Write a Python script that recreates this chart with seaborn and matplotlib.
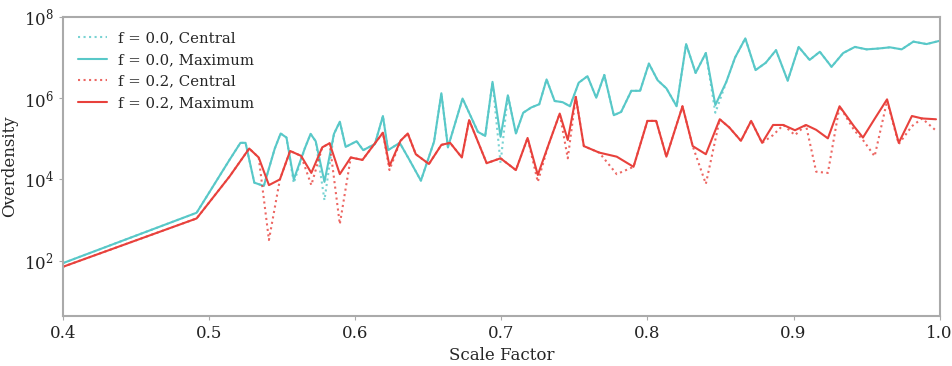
import numpy as np
import pandas as pd
import matplotlib
matplotlib.use('Agg')
import matplotlib.pyplot as plt
import seaborn as sns

# scale factor of each output, f = 0.0 run
a_f00 = [0.400, 0.4915, 0.514, 0.5215, 0.525, 0.531, 0.5375, 0.545, 0.549, 0.553,
         0.558, 0.5655, 0.5695, 0.573, 0.579, 0.5855, 0.5895, 0.5935, 0.601, 0.6055,
         0.6135, 0.619, 0.6225, 0.6305, 0.637, 0.645, 0.654, 0.659, 0.6635, 0.6735,
         0.684, 0.689, 0.694, 0.6995, 0.7045, 0.710, 0.715, 0.7205, 0.726, 0.731,
         0.7365, 0.742, 0.747, 0.753, 0.759, 0.765, 0.7705, 0.777, 0.782, 0.789,
         0.795, 0.801, 0.807, 0.813, 0.820, 0.8265, 0.833, 0.840, 0.8465, 0.854,
         0.860, 0.867, 0.874, 0.881, 0.888, 0.896, 0.9035, 0.911, 0.918, 0.926,
         0.934, 0.942, 0.950, 0.958, 0.966, 0.974, 0.982, 0.991, 1.000]

# log10 overdensity
max_f00 = [1.94, 3.18, 4.48, 4.90, 4.90, 3.92, 3.84, 4.76, 5.13, 5.03,
           4.00, 4.76, 5.12, 4.94, 3.94, 5.12, 5.42, 4.80, 4.94, 4.72,
           4.87, 5.56, 4.72, 4.90, 4.49, 3.97, 4.93, 6.12, 4.79, 5.99,
           5.17, 5.07, 6.40, 5.05, 6.07, 5.13, 5.64, 5.77, 5.85, 6.46,
           5.93, 5.90, 5.80, 6.38, 6.54, 6.01, 6.57, 5.58, 5.66, 6.18,
           6.18, 6.85, 6.44, 6.24, 5.80, 7.33, 6.62, 7.11, 5.83, 6.40,
           7.00, 7.47, 6.69, 6.87, 7.18, 6.43, 7.26, 6.94, 7.14, 6.77,
           7.11, 7.26, 7.20, 7.22, 7.25, 7.20, 7.39, 7.33, 7.41]

cen_f00 = [1.94, 3.18, 4.48, 4.90, 4.90, 3.92, 3.84, 4.76, 5.13, 5.03,
           3.91, 4.76, 5.12, 4.94, 3.49, 5.12, 5.42, 4.80, 4.94, 4.72,
           4.87, 5.56, 4.72, 4.90, 4.49, 3.97, 4.93, 6.12, 4.79, 5.99,
           5.17, 5.07, 6.40, 4.40, 6.07, 5.13, 5.64, 5.77, 5.85, 6.46,
           5.93, 5.90, 5.80, 6.38, 6.54, 6.01, 6.57, 5.58, 5.66, 6.18,
           6.18, 6.85, 6.44, 6.24, 5.80, 7.33, 6.62, 7.11, 5.64, 6.40,
           7.00, 7.47, 6.69, 6.87, 7.18, 6.43, 7.26, 6.94, 7.14, 6.77,
           7.11, 7.26, 7.20, 7.22, 7.25, 7.20, 7.39, 7.33, 7.41]

# f = 0.2 run
a_f02 = [0.400, 0.4915, 0.514, 0.5275, 0.534, 0.541, 0.5485, 0.5555, 0.563, 0.570,
         0.5775, 0.5825, 0.5895, 0.597, 0.605, 0.619, 0.6235, 0.631, 0.636, 0.6415,
         0.6505, 0.659, 0.665, 0.673, 0.678, 0.690, 0.6995, 0.710, 0.718, 0.725,
         0.732, 0.740, 0.7455, 0.751, 0.7565, 0.767, 0.779, 0.7905, 0.800, 0.806,
         0.813, 0.824, 0.831, 0.840, 0.8495, 0.856, 0.864, 0.871, 0.8785, 0.886,
         0.893, 0.901, 0.9085, 0.9155, 0.9235, 0.9315, 0.9415, 0.9475, 0.9555, 0.964,
         0.972, 0.981, 0.988, 0.9975]

max_f02 = [1.85, 3.04, 4.07, 4.76, 4.54, 3.86, 4.00, 4.70, 4.58, 4.16,
           4.79, 4.89, 4.13, 4.54, 4.48, 5.15, 4.33, 4.95, 5.13, 4.62,
           4.38, 4.85, 4.90, 4.54, 5.46, 4.40, 4.52, 4.23, 5.02, 4.11,
           4.82, 5.62, 4.97, 6.03, 4.82, 4.66, 4.56, 4.31, 5.44, 5.44,
           4.56, 5.80, 4.82, 4.62, 5.48, 5.28, 4.95, 5.44, 4.90, 5.34,
           5.34, 5.21, 5.34, 5.22, 5.01, 5.80, 5.30, 5.03, 5.49, 5.97,
           4.90, 5.56, 5.50, 5.48]

cen_f02 = [1.85, 3.04, 4.07, 4.76, 4.54, 2.51, 4.00, 4.70, 4.58, 3.86,
           4.79, 4.89, 2.90, 4.54, 4.48, 5.15, 4.23, 4.95, 5.13, 4.62,
           4.38, 4.85, 4.90, 4.54, 5.46, 4.40, 4.52, 4.23, 5.02, 3.94,
           4.82, 5.62, 4.52, 6.03, 4.82, 4.66, 4.13, 4.31, 5.44, 5.44,
           4.56, 5.80, 4.82, 3.89, 5.48, 5.28, 4.95, 5.44, 4.90, 5.09,
           5.34, 5.09, 5.34, 4.19, 4.16, 5.80, 5.21, 4.97, 4.57, 5.93,
           4.87, 5.31, 5.50, 5.20]

cyan = '#58c8c8'
red = '#e8413c'

sns.set_style('ticks')
plt.rcParams['font.family'] = ['DejaVu Serif']

fig, ax = plt.subplots(figsize=(9.53, 3.66), dpi=100)
fig.subplots_adjust(left=0.066, right=0.986, top=0.954, bottom=0.137)

series = [
    (a_f00, cen_f00, 'f = 0.0, Central', cyan, ':', 0.8),
    (a_f00, max_f00, 'f = 0.0, Maximum', cyan, '-', 1.0),
    (a_f02, cen_f02, 'f = 0.2, Central', red, ':', 0.8),
    (a_f02, max_f02, 'f = 0.2, Maximum', red, '-', 1.0),
]
for a, logd, lab, col, ls, al in series:
    df = pd.DataFrame({'a': a, 'delta': 10 ** np.array(logd)})
    sns.lineplot(data=df, x='a', y='delta', ax=ax, color=col, linestyle=ls,
                 linewidth=1.5, alpha=al, label=lab, estimator=None, sort=False)

ax.set_yscale('log')
ax.set_xlim(0.4, 1.0)
ax.set_ylim(4.4, 1e8)
ax.set_yticks([1e2, 1e4, 1e6, 1e8])
ax.yaxis.set_minor_locator(matplotlib.ticker.NullLocator())
ax.set_xticks([0.4, 0.5, 0.6, 0.7, 0.8, 0.9, 1.0])
ax.set_xlabel('Scale Factor', fontsize=12)
ax.set_ylabel('Overdensity', fontsize=12)
ax.tick_params(labelsize=12, length=3, color='#aaaaaa', colors='#222222')
for s in ax.spines.values():
    s.set_color('#aaaaaa')
    s.set_linewidth(1.5)

ax.legend(loc='upper left', frameon=False, fontsize=10.7, handlelength=2.0,
          handletextpad=0.7, borderaxespad=0.6, labelspacing=0.5)

plt.savefig('out.png', dpi=100)
